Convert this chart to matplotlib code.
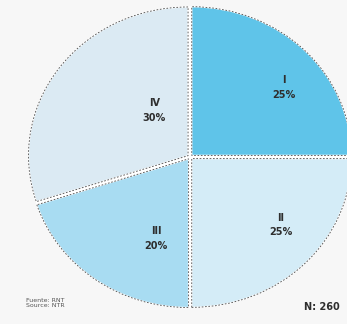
import matplotlib.pyplot as plt

# datos de la distribución por cuartil
categorias = ['I', 'II', 'III', 'IV']
porcentajes = [25, 25, 20, 30]
colores = ['#5fc4e9', '#d4ecf7', '#a8dcf2', '#dbeaf3']
total_n = 260

# posiciones de las etiquetas dentro de cada porción
pos_etiquetas = [(0.58, 0.46), (0.56, -0.45), (-0.21, -0.54), (-0.22, 0.31)]

fuente = ['Liberation Sans Narrow', 'DejaVu Sans Condensed', 'DejaVu Sans']
separacion = [0.015] * 4
radio = 0.985

fig = plt.figure(figsize=(3.47, 3.24), dpi=100)
fig.patch.set_facecolor('#f7f7f7')
ax = fig.add_axes([0, 0, 1, 1])
ax.set_facecolor('#f7f7f7')

# franja blanca entre porciones
ax.pie(porcentajes, colors=['white'] * 4, startangle=90, counterclock=False, radius=radio,
       wedgeprops=dict(edgecolor='white', linewidth=3))

wedges, _ = ax.pie(porcentajes, colors=colores, startangle=90, counterclock=False,
                   radius=radio, explode=separacion,
                   wedgeprops=dict(edgecolor='white', linewidth=1.0))

# contorno punteado de cada porción
ax.pie(porcentajes, colors=['none'] * 4, startangle=90, counterclock=False,
       radius=radio, explode=separacion,
       wedgeprops=dict(edgecolor='#4a4a4a', linewidth=0.6, linestyle=(0, (2, 2)), fill=False))

# la torta se dibuja un poco achatada
ax.set_aspect('auto')
ax.set_xlim(-1.173, 0.969)
ax.set_ylim(-1.106, 1.04)
ax.axis('off')

for cat, pct, (x, y) in zip(categorias, porcentajes, pos_etiquetas):
    ax.text(x, y, f'{cat}\n{pct}%', ha='center', va='center', fontsize=7,
            fontweight='bold', color='#2e2e2e', linespacing=1.6, family=fuente)

fig.text(26 / 347, 1 - 303 / 324, 'Fuente: RNT\nSource: NTR', ha='left', va='center',
         fontsize=4.5, color='#555555', linespacing=1.2, family=fuente)
fig.text(340 / 347, 1 - 307 / 324, f'N: {total_n}', ha='right', va='center',
         fontsize=7, fontweight='bold', color='#2e2e2e', family=fuente)

fig.savefig('out.png', dpi=100, facecolor=fig.get_facecolor())
